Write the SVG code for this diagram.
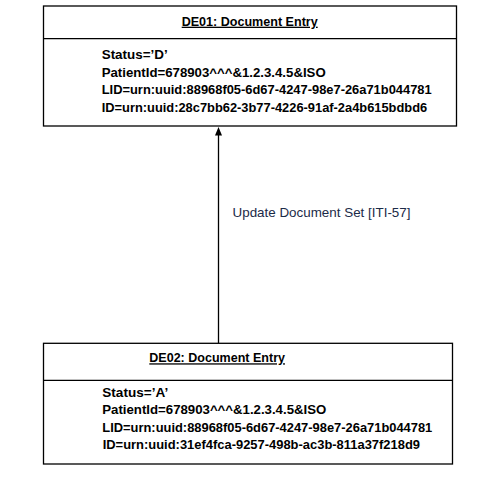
<svg xmlns="http://www.w3.org/2000/svg" width="485" height="483" viewBox="0 0 485 483">
<style>
.box{fill:#fff;stroke:#000;stroke-width:1.3}
.t{font-family:"Liberation Sans",Arial,sans-serif;font-size:13px;font-weight:bold;fill:#000}
.u{text-decoration:underline}
.lbl{font-family:"Liberation Sans",Arial,sans-serif;font-size:13px;fill:#1b2b48}
.ln{stroke:#000;stroke-width:1.3;fill:none}
</style>
<rect width="485" height="483" fill="#fff"/>
<g id="DE01">
<rect class="box" x="43.5" y="6" width="413" height="120"/>
<line class="ln" x1="43.5" y1="38.7" x2="456.5" y2="38.7"/>
<text class="t u" x="181.7" y="25.7" textLength="136" lengthAdjust="spacingAndGlyphs">DE01: Document Entry</text>
<text class="t" x="101.7" y="59" textLength="66" lengthAdjust="spacingAndGlyphs">Status=’D’</text>
<text class="t" x="101.7" y="76.5" textLength="224" lengthAdjust="spacingAndGlyphs">PatientId=678903^^^&amp;1.2.3.4.5&amp;ISO</text>
<text class="t" x="101.7" y="94" textLength="330" lengthAdjust="spacingAndGlyphs">LID=urn:uuid:88968f05-6d67-4247-98e7-26a71b044781</text>
<text class="t" x="101.7" y="111.7" textLength="325.5" lengthAdjust="spacingAndGlyphs">ID=urn:uuid:28c7bb62-3b77-4226-91af-2a4b615bdbd6</text>
</g>
<g id="DE02">
<rect class="box" x="43.5" y="343.3" width="409" height="120.7"/>
<line class="ln" x1="43.5" y1="380.3" x2="452.5" y2="380.3"/>
<text class="t u" x="149.3" y="362.3" textLength="135.7" lengthAdjust="spacingAndGlyphs">DE02: Document Entry</text>
<text class="t" x="102.3" y="396.7" textLength="66" lengthAdjust="spacingAndGlyphs">Status=’A’</text>
<text class="t" x="102.3" y="414" textLength="224" lengthAdjust="spacingAndGlyphs">PatientId=678903^^^&amp;1.2.3.4.5&amp;ISO</text>
<text class="t" x="102.3" y="431.7" textLength="330" lengthAdjust="spacingAndGlyphs">LID=urn:uuid:88968f05-6d67-4247-98e7-26a71b044781</text>
<text class="t" x="102.7" y="449.3" textLength="317.3" lengthAdjust="spacingAndGlyphs">ID=urn:uuid:31ef4fca-9257-498b-ac3b-811a37f218d9</text>
</g>
<g id="connectors">
<line class="ln" x1="218.5" y1="343" x2="218.5" y2="133"/>
<path d="M218.5,127 L222,135.5 L215,135.5 Z" fill="#000"/>
<text class="lbl" x="232.5" y="216.7" textLength="178" lengthAdjust="spacingAndGlyphs">Update Document Set [ITI-57]</text>
</g>
</svg>
